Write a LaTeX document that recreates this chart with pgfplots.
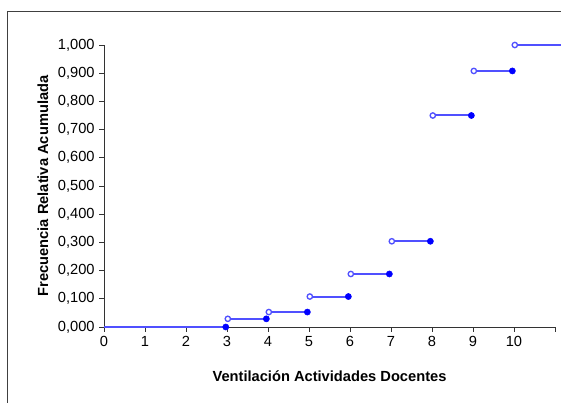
\documentclass[border=0pt]{standalone}
\usepackage{pgfplots}
\pgfplotsset{compat=1.18}
\usepackage{fontspec}
\setmainfont{Liberation Sans}
\definecolor{linec}{RGB}{80,80,255}
\definecolor{dotc}{RGB}{0,0,255}
\begin{document}
\begin{tikzpicture}
\useasboundingbox (-78pt,-57pt) rectangle (342.75pt,245.25pt);
\draw[black!75, line width=0.75pt] (360pt,236.25pt) -- (-72pt,236.25pt) -- (-72pt,-70pt);
\begin{axis}[
  at={(0,0)}, anchor=south west,
  scale only axis, width=338.25pt, height=211.5pt,
  xmin=0, xmax=11, ymin=0, ymax=1,
  axis x line*=bottom, axis y line*=left,
  axis line style={black!80, line width=0.6pt},
  tick style={black!80, line width=0.6pt},
  tick align=outside, major tick length=3.5pt,
  xtick={0,1,2,3,4,5,6,7,8,9,10,11},
  xticklabels={0,1,2,3,4,5,6,7,8,9,10,{}},
  ytick={0,0.1,0.2,0.3,0.4,0.5,0.6,0.7,0.8,0.9,1},
  yticklabel style={/pgf/number format/.cd, fixed, fixed zerofill, precision=3, use comma, 1000 sep={}},
  /pgf/number format/assume math mode=true,
  ticklabel style={font=\fontsize{11}{13}\selectfont},
  xlabel={Ventilación Actividades Docentes},
  ylabel={Frecuencia Relativa Acumulada},
  label style={font=\fontsize{11}{13}\selectfont\bfseries},
  xlabel style={at={(axis description cs:0.5,-0.174)}, anchor=center},
  ylabel style={at={(axis description cs:-0.1353,0.5)}, anchor=center},
  clip=false,
  unbounded coords=jump,
]
% step segments
\addplot[linec, line width=1.5pt] coordinates {
  (0,0) (2.97,0) (nan,nan)
  (3.02,0.029) (3.96,0.029) (nan,nan)
  (4.02,0.053) (4.96,0.053) (nan,nan)
  (5.02,0.108) (5.96,0.108) (nan,nan)
  (6.02,0.188) (6.96,0.188) (nan,nan)
  (7.02,0.304) (7.96,0.304) (nan,nan)
  (8.02,0.750) (8.96,0.750) (nan,nan)
  (9.02,0.908) (9.96,0.908) (nan,nan)
  (10.02,1.000) (11.15,1.000)
};
% filled (closed) ends
\addplot[only marks, mark=*, mark size=2.3pt, mark options={draw=dotc, fill=dotc}] coordinates {
  (2.97,0) (3.96,0.029) (4.96,0.053) (5.96,0.108) (6.96,0.188) (7.96,0.304) (8.96,0.750) (9.96,0.908)
};
% open starts
\addplot[only marks, mark=*, mark size=2pt, mark options={draw=linec, fill=white, line width=1pt}] coordinates {
  (3.02,0.029) (4.02,0.053) (5.02,0.108) (6.02,0.188) (7.02,0.304) (8.02,0.750) (9.02,0.908) (10.02,1.000)
};
\end{axis}
\end{tikzpicture}
\end{document}
